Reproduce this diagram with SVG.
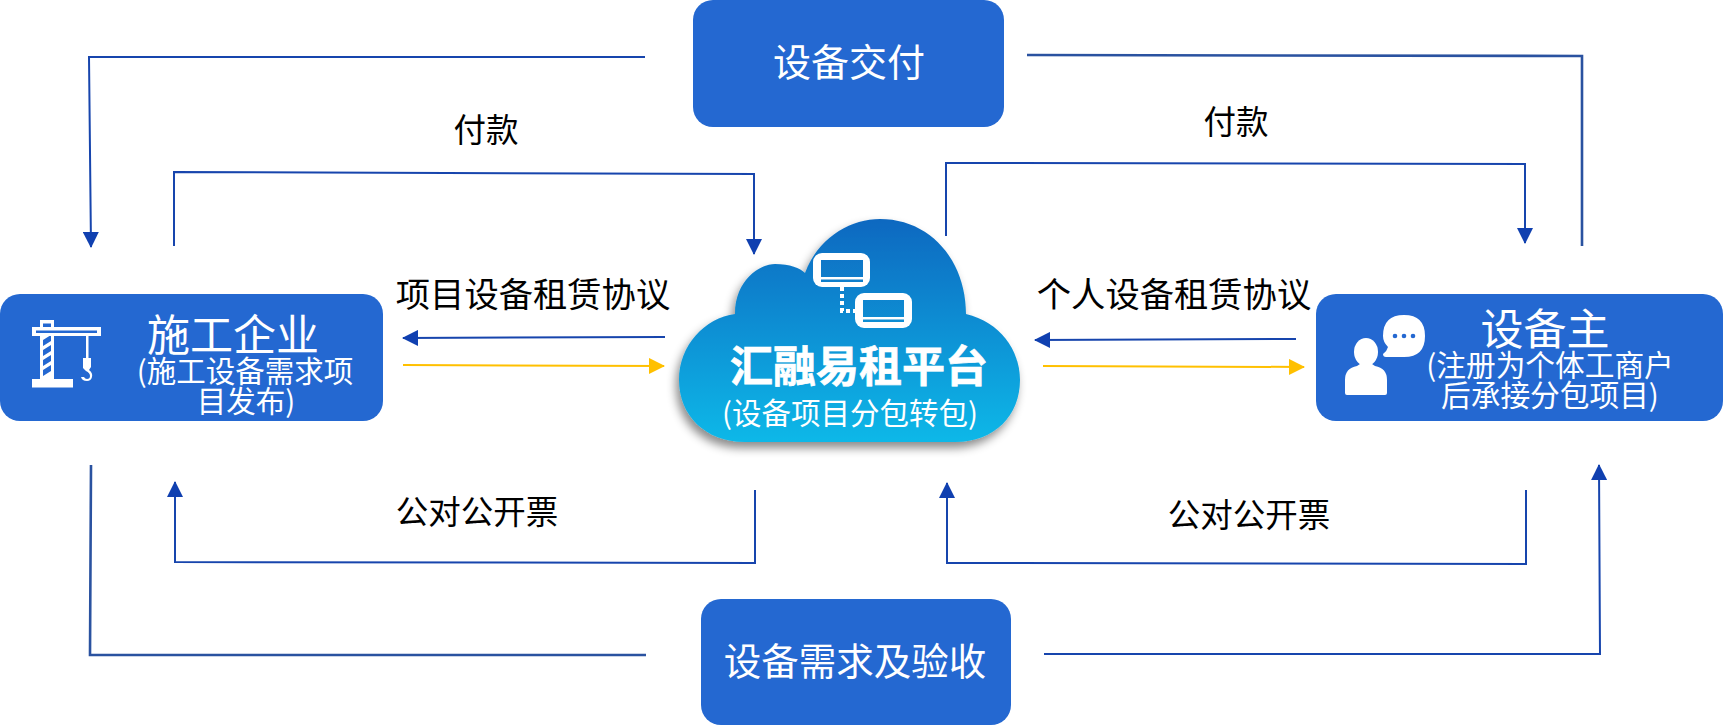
<svg xmlns="http://www.w3.org/2000/svg" width="1723" height="726" viewBox="0 0 1723 726">
<style>
text{font-family:"Noto Sans CJK SC","Liberation Sans",sans-serif;text-anchor:middle}
.w{fill:#fff}.k{fill:#000;font-size:32.5px}.k2{fill:#000;font-size:34.3px}
.box{fill:#2468d1}
.c{fill:none;stroke:#1745ad;stroke-width:2}
.d{fill:none;stroke:#2a52a0;stroke-width:2.6}
.y{fill:none;stroke:#ffc000;stroke-width:2}
</style>
<defs>
<marker id="b" markerUnits="userSpaceOnUse" markerWidth="16" markerHeight="16" refX="15" refY="8" orient="auto"><path d="M0 0L16 8L0 16Z" fill="#1040b0"/></marker>
<marker id="a" markerUnits="userSpaceOnUse" markerWidth="16" markerHeight="16" refX="15" refY="8" orient="auto"><path d="M0 0L16 8L0 16Z" fill="#ffc000"/></marker>
<linearGradient id="g" gradientUnits="userSpaceOnUse" x1="0" y1="219" x2="0" y2="442"><stop offset="0" stop-color="#1068c0"/><stop offset="1" stop-color="#0ab8e8"/></linearGradient>
<filter id="s" x="-10%" y="-10%" width="120%" height="125%"><feDropShadow dx="-3" dy="6" stdDeviation="5" flood-color="#000" flood-opacity=".45"/></filter>
</defs>
<g id="connectors">
<path class="c" d="M645 57H89L91 247" marker-end="url(#b)"/>
<path class="c" d="M174 246V172L754 174V254" marker-end="url(#b)"/>
<path class="c" d="M946 236V163L1525 164V243" marker-end="url(#b)"/>
<path class="d" d="M1027 55L1582 56V246"/>
<path class="c" d="M665 337L403 338" marker-end="url(#b)"/>
<path class="y" d="M403 365L664 366" marker-end="url(#a)"/>
<path class="c" d="M1296 339L1035 340" marker-end="url(#b)"/>
<path class="y" d="M1043 366L1304 367" marker-end="url(#a)"/>
<path class="c" d="M755 490V563L175 562V482" marker-end="url(#b)"/>
<path class="c" d="M1526 490V564L947 563V483" marker-end="url(#b)"/>
<path class="d" d="M91 465L90 655H646"/>
<path class="c" d="M1044 654H1600L1599 465" marker-end="url(#b)"/>
</g>
<g id="node-top"><rect class="box" x="693" y="0" width="311" height="127" rx="20"/><text class="w" x="849" y="76" font-size="38">设备交付</text></g>
<g id="node-bottom"><rect class="box" x="701" y="599" width="310" height="126" rx="20"/><text class="w" x="855" y="675" font-size="37.5">设备需求及验收</text></g>
<g id="node-left"><rect class="box" x="0" y="294" width="383" height="127" rx="20"/>
<rect class="w" x="40" y="320" width="14" height="60"/>
<path class="box" d="M43 323.500h8v3.500h-8zM43 340l8-5v6l-8 5zM43 350l8-5v6l-8 5zM43 360l8-5v6l-8 5zM43 370l8-5v6l-8 5z"/>
<rect class="w" x="32" y="327" width="69" height="9"/>
<rect class="box" x="36" y="330.500" width="61" height="2.500"/>
<rect class="w" x="32" y="379" width="41" height="8.500"/>
<rect class="w" x="86" y="336" width="2.500" height="23"/>
<path class="w" d="M83 358h8v9l-2 3q4 3 3 7-1 4-5 4-5 0-6-4h3q1 2 3 2 3 0 3-3 0-3-4-5l-3-3z"/>
<text class="w" x="233" y="351" font-size="43">施工企业</text>
<text class="w" x="245" y="382" font-size="29.500">(施工设备需求项</text>
<text class="w" x="246" y="412" font-size="29.500">目发布)</text></g>
<g id="node-right"><rect class="box" x="1316" y="294" width="407" height="127" rx="20"/>
<ellipse class="w" cx="1366" cy="352" rx="12" ry="14"/>
<path class="w" d="M1345 393V380q0-12 12-14l3-2h12l3 2q12 2 12 14v13q0 2-2 2h-38q-2 0-2-2Z"/>
<path class="w" d="M1386 357q-3 0-3-3 4-3 5-7-5-5-5-11 0-21 21-21t21 21-21 21Z"/>
<circle cx="1395" cy="336" r="2.300" fill="#2468d1"/><circle cx="1404" cy="336" r="2.300" fill="#2468d1"/><circle cx="1413" cy="336" r="2.300" fill="#2468d1"/>
<text class="w" x="1545" y="345" font-size="43">设备主</text>
<text class="w" x="1550" y="376" font-size="29.700">(注册为个体工商户</text>
<text class="w" x="1550" y="406" font-size="29.700">后承接分包项目)</text></g>
<g id="node-cloud">
<path filter="url(#s)" fill="url(#g)" d="M735 314C735 280 760 264 775 264C790 264 800 268 805 273C818 238 850 219 880 219C930 219 966 260 966 314C1000 322 1020 350 1020 380C1020 415 995 442 955 442H745C705 442 679 415 679 380C679 345 705 318 735 314Z"/>
<rect class="w" x="813" y="253" width="57" height="34" rx="9"/><rect fill="url(#g)" x="821" y="260" width="42" height="17"/><rect fill="url(#g)" x="821" y="279.500" width="42" height="2.500"/>
<rect class="w" x="855" y="293" width="57" height="35" rx="9"/><rect fill="url(#g)" x="863" y="300" width="41" height="17"/><rect fill="url(#g)" x="863" y="319.500" width="41" height="2.500"/>
<path stroke="#fff" stroke-width="4" fill="none" stroke-dasharray="4 3" d="M842 287V311H856"/>
<text class="w" x="859" y="382" font-size="43" font-weight="700" stroke="#fff" stroke-width=".7">汇融易租平台</text>
<text class="w" x="850" y="424" font-size="29.500">(设备项目分包转包)</text></g>
<g id="labels">
<text class="k" x="486" y="142">付款</text>
<text class="k" x="1236" y="134">付款</text>
<text class="k2" x="533" y="307">项目设备租赁协议</text>
<text class="k2" x="1174" y="307">个人设备租赁协议</text>
<text class="k" x="477" y="524">公对公开票</text>
<text class="k" x="1249" y="527">公对公开票</text>
</g>
</svg>
